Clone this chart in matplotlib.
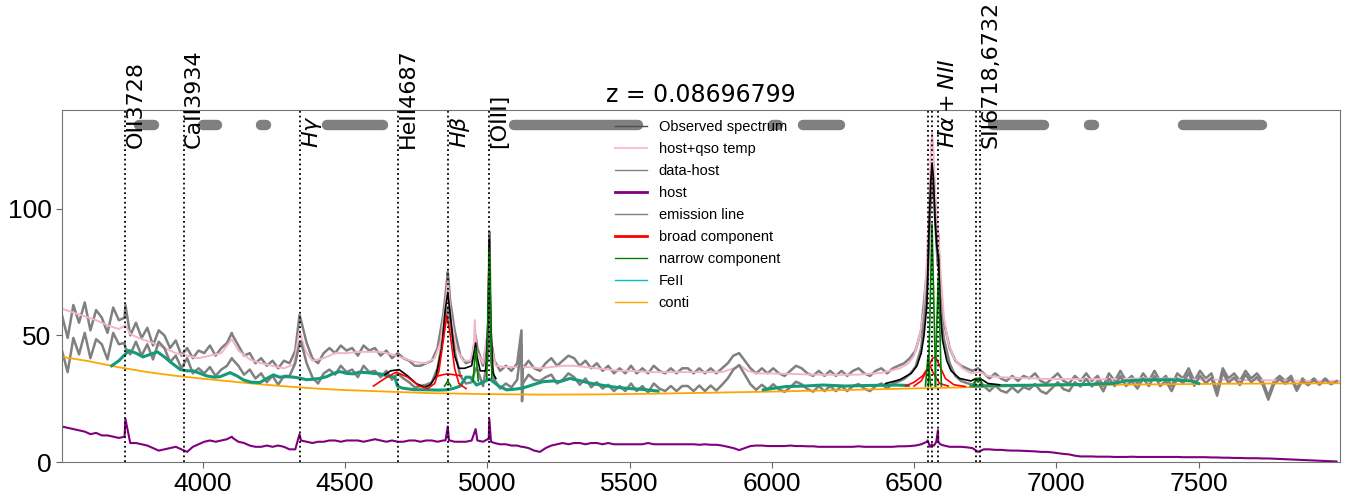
import numpy as np
import matplotlib
matplotlib.use('Agg')
import matplotlib.pyplot as plt
from matplotlib.lines import Line2D

plt.rcParams['font.family'] = ['Liberation Sans', 'DejaVu Sans']

redshift = 0.08696799

# observed spectrum and host on a 20 A grid (rest frame)
grid_start, grid_step = 3505, 20
obs_grid = [
    58, 49, 62, 55, 63, 52, 60, 57, 51, 61,
    56, 57, 50, 55, 49, 53, 46, 52, 50, 45,
    48, 42, 45, 41, 44, 43, 46, 42, 45, 47,
    50, 46, 42, 43, 39, 41, 38, 40, 37, 40,
    39, 44, 56, 47, 41, 39, 43, 45, 43, 46,
    44, 45, 42, 46, 44, 45, 42, 44, 41, 43,
    41, 40, 38, 38, 39, 40, 45, 58, 70, 52,
    42, 39, 40, 45, 38, 60, 40, 36, 38, 36,
    39, 37, 40, 37, 36, 39, 41, 38, 40, 42,
    41, 38, 40, 37, 39, 36, 38, 35, 37, 35,
    38, 35, 37, 35, 38, 36, 35, 37, 35, 37,
    37, 35, 37, 35, 37, 35, 37, 39, 42, 43,
    40, 37, 35, 37, 35, 37, 35, 34, 36, 38,
    37, 35, 34, 36, 34, 36, 34, 36, 34, 36,
    37, 35, 34, 36, 37, 35, 37, 38, 39, 41,
    44, 52, 75, 115, 90, 55, 45, 40, 38, 37,
    36, 37, 35, 33, 35, 33, 32, 34, 32, 34,
    33, 35, 32, 31, 33, 35, 32, 31, 34, 32,
    35, 32, 34, 30, 35, 32, 36, 32, 34, 31,
    35, 32, 36, 32, 34, 30, 35, 33, 37, 32,
    36, 33, 35, 28, 37, 33, 35, 32, 36, 33,
    35, 32, 26, 32, 34, 32, 34, 29, 33, 31,
    33, 31, 33, 31, 32,
]
host_grid = [
    14, 13.5, 13, 12.5, 12, 11, 11.5, 10.5, 10.5, 10,
    9.5, 10, 7.5, 7.5, 7, 6.5, 5.5, 4.5, 5, 5.5,
    6, 5, 4, 6, 7, 8, 8.5, 8, 8.5, 9,
    9.5, 8, 7.5, 6.5, 6, 6, 6.5, 6, 6.5, 6,
    5, 5, 8.5, 8, 7.5, 8, 8, 8.5, 8.5, 8,
    8.5, 8.5, 8.5, 8, 8.5, 9, 8.5, 8, 8.5, 8,
    8, 8.5, 8.5, 8, 8.5, 8.5, 8, 8.5, 8.5, 8,
    8, 8, 8.5, 8.5, 8, 9, 7.5, 7, 7, 6.5,
    6.5, 6, 5.5, 4.5, 4, 5.5, 6.5, 7, 7.5, 7,
    7.5, 7.5, 7, 7.5, 7.5, 7, 7.5, 7, 7, 7,
    7, 7, 7, 7.5, 7, 7, 7, 7, 7, 7,
    7, 7, 6.8, 7, 6.8, 6.8, 6.5, 6, 5.5, 4.7,
    5.5, 6.3, 6.5, 6.5, 6.3, 6.3, 6.3, 6.3, 6.5, 6.3,
    6.3, 6.2, 6.2, 6, 6, 6, 6, 6, 6, 6,
    6.2, 6, 6, 6, 6, 6, 6, 6.2, 6.2, 6.3,
    6.5, 7, 8, 6.5, 8, 6.5, 6, 6, 6, 5.8,
    5.5, 4, 5, 5, 4.8, 4.8, 4.6, 4.5, 4.5, 4.4,
    4.3, 4.2, 4, 4, 3.8, 3.5, 3.2, 3, 2.5, 2.2,
    2.2, 2.2, 2.1, 2.1, 2.1, 2, 2, 2, 2.1, 2,
    2, 2, 2, 2, 2, 2, 2, 1.9, 1.9, 1.9,
    1.9, 1.9, 1.8, 1.8, 1.7, 1.7, 1.6, 1.6, 1.5, 1.5,
    1.5, 1.4, 1.4, 1.3, 1.2, 1.1, 1, 0.9, 0.8, 0.7,
    0.6, 0.5, 0.4, 0.3, 0.2,
]
# extra samples on the narrow features: (wave, observed, host)
line_samples = [
    (3728, 62, 17), (4102, 51, 10), (4340, 58, 11),
    (4853, 66, 8.5), (4861, 75, 14), (4869, 64, 8.5),
    (4959, 50, 13), (5001, 50, 9), (5007, 91, 17), (5013, 48, 8),
    (5120, 52, 6), (5122, 30, 6),
    (6548, 80, 8.5), (6556, 105, 6), (6563, 118, 7), (6570, 110, 6.5),
    (6578, 95, 8), (6584, 90, 12.6), (6592, 66, 7),
]

pink = [
    (3505, 60.5), (3545, 59), (3585, 57.5), (3625, 56), (3665, 54), (3705, 52.5),
    (3728, 54), (3745, 50.5), (3785, 48.5), (3825, 47), (3865, 45), (3905, 43),
    (3945, 42), (3985, 41), (4025, 42), (4065, 43), (4102, 48.5), (4125, 44),
    (4165, 40.5), (4205, 39), (4245, 38), (4285, 37), (4320, 38.5), (4340, 52),
    (4360, 44), (4385, 40), (4425, 41), (4465, 43), (4505, 43), (4545, 43.5),
    (4585, 43.5), (4625, 43.5), (4665, 42.5), (4705, 41), (4745, 39.5), (4785, 39),
    (4815, 41), (4835, 47), (4850, 60), (4861, 71), (4872, 58), (4890, 45),
    (4915, 40), (4940, 40), (4952, 45), (4956, 56), (4961, 44), (4985, 39),
    (5000, 50), (5007, 82), (5014, 45), (5030, 38), (5065, 37.5), (5105, 37.5),
    (5145, 37.5), (5185, 37), (5225, 37.5), (5265, 38), (5305, 38), (5345, 37.5),
    (5385, 37), (5425, 36.5), (5465, 36), (5505, 36), (5545, 35.7), (5585, 35.5),
    (5625, 35.5), (5705, 35.5), (5785, 35.5), (5825, 35.5), (5865, 37), (5890, 38),
    (5915, 36), (5945, 35), (5985, 35), (6065, 34.8), (6145, 34.5), (6225, 34.4),
    (6305, 34.5), (6385, 35.2), (6450, 37), (6480, 39), (6500, 42), (6520, 50),
    (6535, 60), (6545, 80), (6553, 105), (6560, 125), (6563, 130), (6567, 125),
    (6575, 105), (6585, 90), (6595, 72), (6605, 57), (6620, 47), (6640, 41),
    (6670, 37), (6700, 35), (6730, 35.5), (6760, 34), (6800, 33.5), (6880, 33.2),
    (6960, 32.8), (7100, 32.7), (7200, 32.7), (7300, 33), (7400, 33), (7500, 32.6),
    (7600, 32.5), (7700, 32.3), (7800, 32.2), (7900, 32), (7995, 32),
]

conti = [
    (3505, 41.5), (3600, 39.8), (3700, 37.5), (3800, 35.6), (3900, 34.1), (4000, 32.9),
    (4100, 31.8), (4200, 30.7), (4300, 29.8), (4400, 29.0), (4500, 28.4), (4600, 28.0),
    (4700, 27.6), (4800, 27.2), (4900, 27.0), (5000, 26.8), (5200, 26.6), (5400, 26.7),
    (5600, 27.0), (5800, 27.4), (6000, 27.8), (6200, 28.3), (6400, 28.8), (6600, 29.3),
    (6800, 29.8), (7000, 30.2), (7200, 30.5), (7400, 30.7), (7600, 30.9), (7800, 31.0),
    (7995, 31.1),
]

# FeII + continuum, three fitted windows
feii_segments = [
    [(3680, 38), (3705, 40), (3740, 44), (3765, 43), (3790, 41.5), (3815, 42.5),
     (3840, 43.5), (3865, 41.5), (3886, 39.5), (3921, 36.5), (3945, 36), (3967, 36),
     (3990, 35), (4014, 34), (4040, 33.5), (4061, 33.7), (4096, 35.3), (4120, 34),
     (4143, 32.4), (4170, 31.5), (4201, 31.4), (4225, 33), (4248, 34.4), (4270, 33.5),
     (4295, 33.7), (4320, 33.5), (4342, 33.1), (4365, 32.5), (4389, 32.7), (4410, 33),
     (4435, 33.7), (4460, 35), (4482, 35.7), (4505, 35), (4529, 34.8), (4550, 35.5),
     (4576, 35.3), (4600, 35), (4623, 34.8), (4650, 34), (4675, 33.5), (4684, 30),
     (4700, 29.2), (4740, 28.6), (4787, 28.5), (4830, 28.4), (4857, 28.5), (4880, 29),
     (4905, 30), (4925, 33.5), (4940, 33.5), (4962, 30.4), (4985, 31.5), (5008, 32.8),
     (5040, 30), (5068, 28.5), (5100, 28.8), (5125, 29.2), (5160, 30.5), (5195, 31.7),
     (5230, 32), (5254, 31.7), (5291, 33), (5330, 32), (5363, 31.1), (5410, 30.2),
     (5452, 29.5), (5500, 29), (5542, 28.7), (5600, 28)],
    [(5970, 28.5), (6000, 29), (6050, 29.8), (6115, 30), (6180, 30.4), (6258, 30),
     (6330, 30.2), (6437, 30.4), (6480, 30.2)],
    [(6700, 30), (6800, 30.2), (6900, 30.3), (7000, 30.5), (7100, 30.6), (7200, 31),
     (7243, 32), (7300, 32.4), (7400, 32.5), (7475, 32), (7500, 31)],
]

# total line model (black)
model_hb = [
    (4640, 34.5), (4660, 36), (4690, 36.5), (4720, 34), (4750, 31), (4780, 29.5),
    (4800, 30.5), (4820, 34), (4840, 45), (4852, 60), (4861, 67), (4870, 58),
    (4885, 42), (4900, 37), (4920, 37), (4945, 38), (4955, 44), (4959, 47),
    (4963, 42), (4975, 36), (4995, 36), (5002, 55), (5007, 88), (5012, 55),
    (5020, 35), (5030, 33),
]
model_ha = [
    (6400, 31), (6450, 32.5), (6490, 35), (6510, 38), (6525, 43), (6535, 50),
    (6545, 62), (6552, 90), (6558, 110), (6563, 118), (6568, 112), (6574, 95),
    (6580, 85), (6586, 80), (6592, 60), (6600, 48), (6615, 40), (6630, 36),
    (6660, 33), (6700, 32), (6718, 33), (6725, 32.5), (6732, 33), (6760, 31),
    (6800, 30.5),
]

broad_segments = [
    [(4600, 30), (4640, 33), (4680, 35.5), (4720, 33.5), (4760, 30), (4790, 29)],
    [(4790, 29), (4815, 31), (4830, 36), (4845, 48), (4858, 58), (4870, 50),
     (4885, 37), (4900, 31), (4925, 29)],
    [(4828, 34), (4845, 34.5), (4860, 34.8), (4880, 34.5), (4910, 34)],
    [(6470, 30), (6500, 31.5), (6530, 34), (6550, 37.5), (6565, 41), (6575, 41.5),
     (6590, 38), (6610, 33), (6640, 30.5), (6680, 29.8)],
    [(6500, 30), (6525, 32), (6545, 36), (6556, 38), (6568, 35), (6590, 31), (6620, 30)],
]
narrow_segments = [
    [(4850, 30), (4861, 32), (4872, 30)],
    [(4950, 32), (4959, 45), (4968, 32)],
    [(4998, 33), (5007, 84), (5016, 33)],
    [(6540, 30), (6549, 42), (6558, 30)],
    [(6550, 30), (6556, 60), (6563, 94), (6570, 60), (6576, 30)],
    [(6574, 30), (6580, 55), (6585, 73), (6590, 55), (6596, 30)],
    [(6710, 30), (6718, 33), (6725, 31.5), (6732, 33.5), (6740, 30)],
]

# fitting windows drawn as grey bars
windows = [
    (3775, 3830), (4000, 4050), (4205, 4222), (4435, 4635), (5093, 5531),
    (6005, 6023), (6110, 6240), (6778, 6955), (7115, 7132), (7444, 7723),
]

line_waves = [3728, 3934, 4340, 4687, 4861, 5007, 6549, 6563, 6585, 6718, 6732]
label_waves = [3728, 3934, 4340, 4687, 4861, 5007, 6585, 6732]
label_texts = ['OII3728', 'CaII3934', r'$H\gamma$', 'HeII4687', r'$H\beta$',
               '[OIII]', r'$H\alpha+NII$', 'SII6718,6732']


def xy(pairs):
    a = np.array(pairs, dtype=float)
    return a[:, 0], a[:, 1]


def main():
    wave = grid_start + grid_step * np.arange(len(obs_grid))
    extra = np.array(line_samples, dtype=float)
    wave = np.concatenate([wave, extra[:, 0]])
    obs = np.concatenate([obs_grid, extra[:, 1]])
    host = np.concatenate([host_grid, extra[:, 2]])
    order = np.argsort(wave, kind='stable')
    wave, obs, host = wave[order], obs[order], host[order]

    fig = plt.figure(figsize=(13.56, 5.03), dpi=100)
    ax = fig.add_axes([0.0457, 0.0815, 0.9425, 0.6998])

    ax.plot(wave, obs, color='0.5', lw=1.8)
    ax.plot(*xy(pink), color='#f4b6c6', lw=1.4)
    ax.plot(wave, obs - host, color='0.5', lw=1.8)
    ax.plot(wave, host, color='purple', lw=1.5)
    ax.plot(*xy(conti), color='orange', lw=1.3)
    for seg in feii_segments:
        ax.plot(*xy(seg), color='#159a78', lw=2.2)
    ax.plot(*xy(model_hb), color='k', lw=1.2)
    ax.plot(*xy(model_ha), color='k', lw=1.2)
    for seg in broad_segments:
        ax.plot(*xy(seg), color='red', lw=1.2)
    for seg in narrow_segments:
        ax.plot(*xy(seg), color='green', lw=1.2)

    for w in line_waves:
        ax.axvline(w, color='k', ls=':', lw=1.3)
    for lo, hi in windows:
        ax.plot([lo, hi], [133, 133], color='grey', lw=7.5,
                solid_capstyle='round')
    for w, t in zip(label_waves, label_texts):
        ax.text(w, 124, t, rotation=90, ha='left', va='bottom',
                fontsize=16, family='DejaVu Sans', clip_on=False)

    ax.set_xlim(3505, 7997)
    ax.set_ylim(0, 139)
    ax.set_xticks([4000, 4500, 5000, 5500, 6000, 6500, 7000, 7500])
    ax.set_yticks([0, 50, 100])
    ax.tick_params(labelsize=19, length=4, color='0.4')
    for s in ax.spines.values():
        s.set_color('0.45')
        s.set_linewidth(0.8)
    ax.set_title('z = ' + str(redshift), fontsize=17, family='DejaVu Sans')

    handles = [
        Line2D([], [], color='0.3', lw=1),
        Line2D([], [], color='pink', lw=1.5),
        Line2D([], [], color='0.5', lw=1),
        Line2D([], [], color='purple', lw=2),
        Line2D([], [], color='0.5', lw=1),
        Line2D([], [], color='red', lw=2),
        Line2D([], [], color='green', lw=1),
        Line2D([], [], color='c', lw=1),
        Line2D([], [], color='orange', lw=1),
    ]
    labels = ['Observed spectrum', 'host+qso temp', 'data-host', 'host',
              'emission line', 'broad component', 'narrow component', 'FeII',
              'conti']
    ax.legend(handles, labels, loc='upper center', frameon=False,
              fontsize=10.5, handlelength=2.2, labelspacing=0.55,
              borderaxespad=0.3)

    fig.savefig('out.png', dpi=100)


if __name__ == '__main__':
    main()
